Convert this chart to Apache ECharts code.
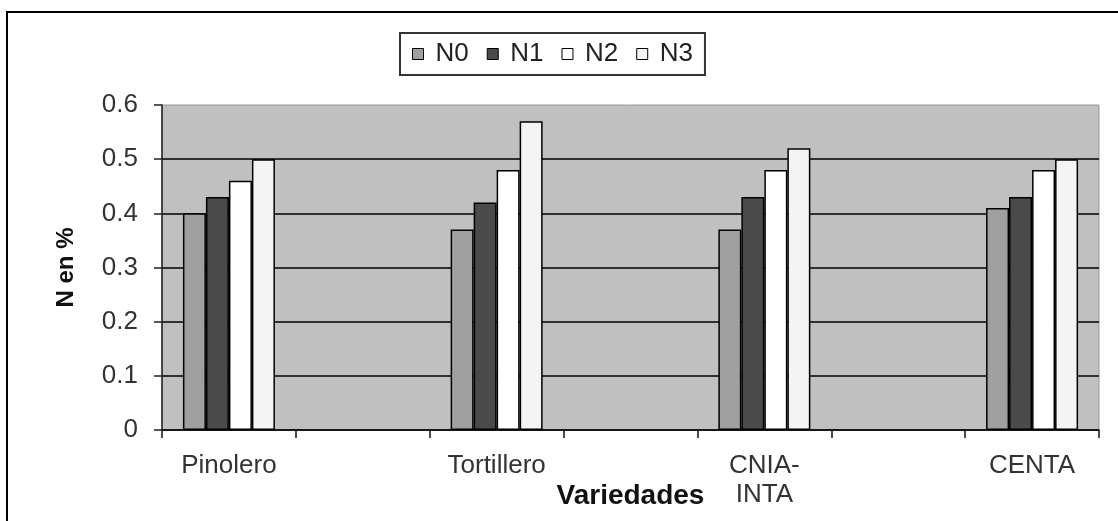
<!DOCTYPE html>
<html>
<head>
<meta charset="utf-8">
<script src="https://cdn.jsdelivr.net/npm/echarts@6/dist/echarts.min.js"></script>
<style>
  html, body { margin: 0; padding: 0; background: #fff; }
  #chart { width: 1118px; height: 521px; }
</style>
</head>
<body>
<div id="chart"></div>
<script>
// categories (blank slots sit between the varieties, as in the original sheet)
const categories = ['Pinolero', '', 'Tortillero', ' ', 'CNIA-\nINTA', '  ', 'CENTA'];
const seriesNames = ['N0', 'N1', 'N2', 'N3'];
const n0 = [0.40, null, 0.37, null, 0.37, null, 0.41];
const n1 = [0.43, null, 0.42, null, 0.43, null, 0.43];
const n2 = [0.46, null, 0.48, null, 0.48, null, 0.48];
const n3 = [0.50, null, 0.57, null, 0.52, null, 0.50];
const barColors = ['#a0a0a0', '#4a4a4a', '#ffffff', '#f4f4f4'];

const font = '"Liberation Sans", Arial, sans-serif';
const chart = echarts.init(document.getElementById('chart'), null, { renderer: 'canvas' });

const series = [n0, n1, n2, n3].map((d, i) => ({
  name: seriesNames[i],
  type: 'bar',
  data: d,
  barWidth: 23,
  barGap: '0%',
  itemStyle: { color: barColors[i], borderColor: '#000', borderWidth: 1.5 }
}));

const option = {
  backgroundColor: '#fff',
  animation: false,
  graphic: [{
    type: 'rect',
    shape: { x: 7, y: 12, width: 1300, height: 700 },
    style: { fill: null, stroke: '#000', lineWidth: 2 },
    silent: true
  }],
  legend: {
    left: 400,
    top: 33,
    data: seriesNames,
    icon: 'rect',
    itemWidth: 11,
    itemHeight: 11,
    itemGap: 18,
    padding: [8, 12, 8, 12],
    backgroundColor: '#fff',
    borderColor: '#333',
    borderWidth: 2,
    itemStyle: { borderColor: '#000', borderWidth: 1 },
    textStyle: { fontFamily: font, fontSize: 26, color: '#222', padding: [0, 0, 0, 7] }
  },
  grid: {
    left: 162, top: 105, right: 19, bottom: 91,
    outerBoundsMode: 'none',
    show: true,
    backgroundColor: '#c0c0c0',
    borderColor: '#999',
    borderWidth: 1
  },
  xAxis: {
    type: 'category',
    data: categories,
    boundaryGap: true,
    name: 'Variedades',
    nameLocation: 'middle',
    nameGap: 52,
    nameMoveOverlap: false,
    nameTextStyle: { fontFamily: font, fontSize: 28, fontWeight: 'bold', color: '#111' },
    axisLine: { lineStyle: { color: '#111', width: 1.5 } },
    axisTick: { show: true, length: 8, alignWithLabel: false, lineStyle: { color: '#111', width: 1.5 } },
    axisLabel: { interval: 0, margin: 21, fontFamily: font, fontSize: 26, color: '#333', lineHeight: 29 },
    splitLine: { show: false }
  },
  yAxis: {
    type: 'value',
    min: 0,
    max: 0.6,
    interval: 0.1,
    name: 'N en %',
    nameLocation: 'middle',
    nameGap: 84,
    nameRotate: 90,
    nameMoveOverlap: false,
    nameTextStyle: { fontFamily: font, fontSize: 24, fontWeight: 'bold', color: '#111' },
    axisLine: { show: true, lineStyle: { color: '#222', width: 1.5 } },
    axisTick: { show: true, length: 8, lineStyle: { color: '#222', width: 1.5 } },
    axisLabel: {
      margin: 24, fontFamily: font, fontSize: 26, color: '#333',
      formatter: v => (v === 0 ? '0' : v.toFixed(1))
    },
    splitLine: { show: true, showMaxLine: false, lineStyle: { color: '#000', width: 1.5 } }
  },
  series: series
};

chart.setOption(option);
</script>
</body>
</html>
